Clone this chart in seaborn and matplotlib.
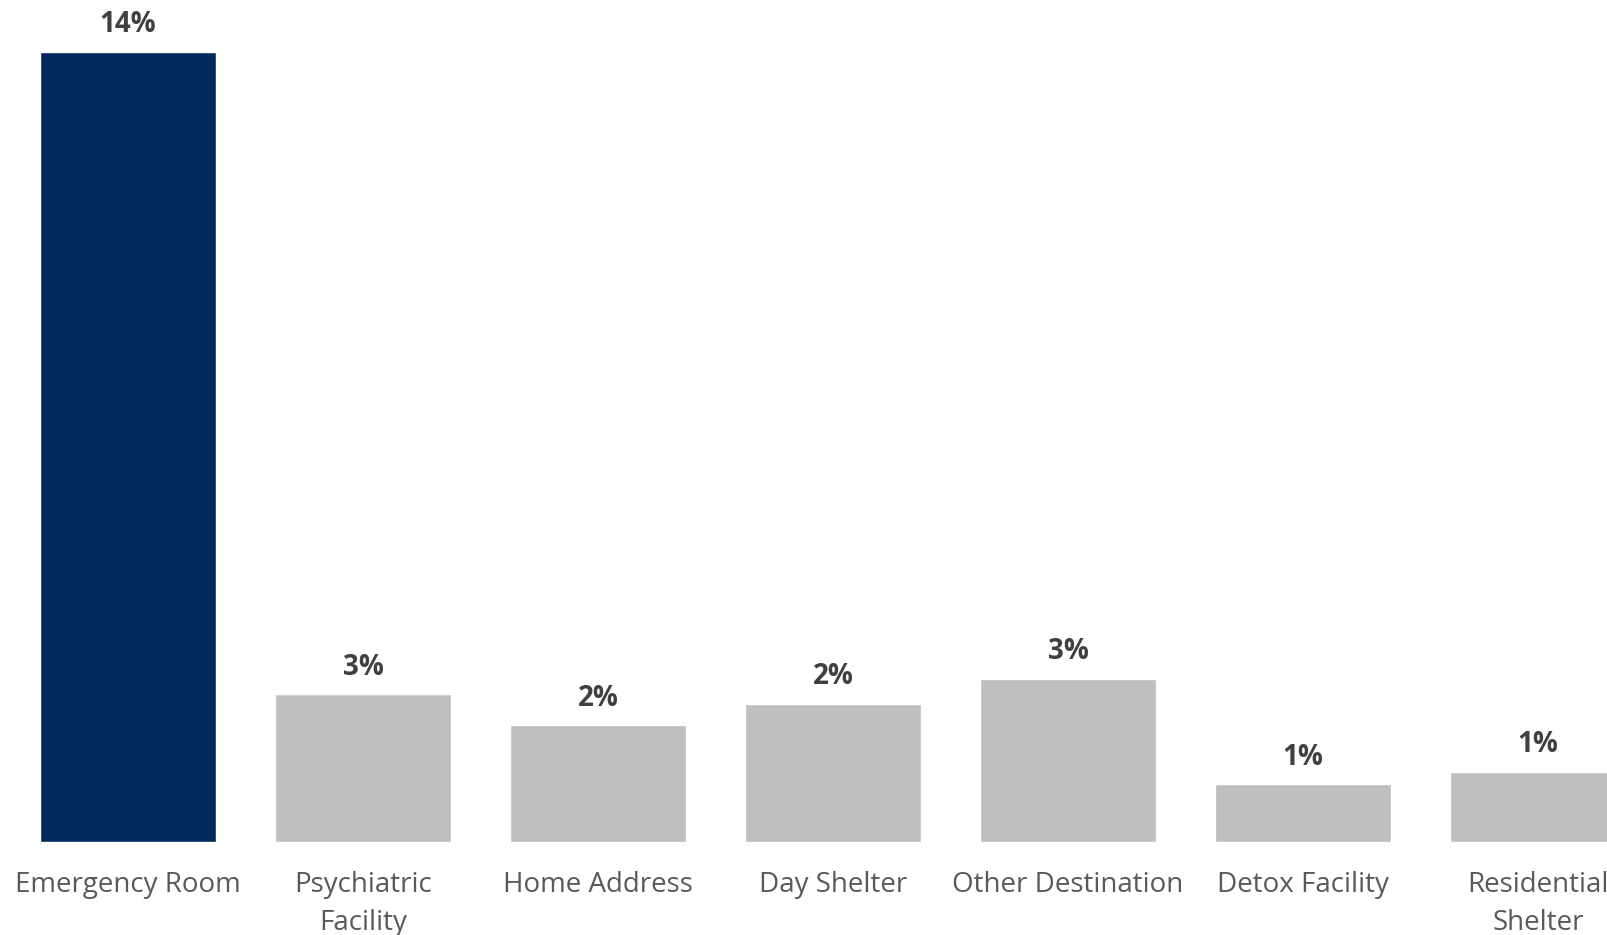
import matplotlib
matplotlib.use("Agg")
import matplotlib.pyplot as plt
import seaborn as sns
import pandas as pd

# data
categories = ["Emergency Room", "Psychiatric\nFacility", "Home Address", "Day Shelter",
              "Other Destination", "Detox Facility", "Residential\nShelter"]
values = [14.0, 2.62, 2.07, 2.45, 2.89, 1.02, 1.24]
labels = ["14%", "3%", "2%", "2%", "3%", "1%", "1%"]
colors = ["#002B5C", "#BFBFBF", "#BFBFBF", "#BFBFBF", "#BFBFBF", "#BFBFBF", "#BFBFBF"]

sns.set_theme(style="white")
plt.rcParams["font.family"] = ["Open Sans", "DejaVu Sans"]

df = pd.DataFrame({"dest": categories, "pct": values})

fig = plt.figure(figsize=(16.08, 9.35), dpi=100)
ax = fig.add_axes([0, 0.0995, 1, 0.9005])
sns.barplot(data=df, x="dest", y="pct", hue="dest", palette=colors,
            width=0.75, legend=False, ax=ax, saturation=1)

for i, (v, t) in enumerate(zip(values, labels)):
    ax.annotate(t, (i, v), xytext=(0, 9), textcoords="offset points",
                ha="center", va="bottom", fontsize=20, fontweight="bold", color="#404040")

ax.set_xlim(-0.545, 6.298)
ax.set_ylim(0, 14.92)
ax.set_xlabel("")
ax.set_ylabel("")
ax.set_yticks([])
ax.tick_params(axis="x", length=0, pad=21, labelsize=20, labelcolor="#595959")
for lbl in ax.get_xticklabels():
    lbl.set_linespacing(1.45)
sns.despine(left=True, bottom=True)

fig.savefig("out.png", dpi=100)
